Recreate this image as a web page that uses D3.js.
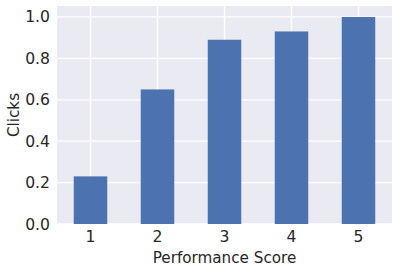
<!DOCTYPE html>
<html>
<head>
<meta charset="utf-8">
<script src="https://cdn.jsdelivr.net/npm/d3@7"></script>
<style>
  body { margin: 0; background: #fff; }
  svg text { font-family: "DejaVu Sans", sans-serif; fill: #262626; }
</style>
</head>
<body>
<div id="chart"></div>
<script>
// data
var scores = ["1", "2", "3", "4", "5"];
var clicks = [0.23, 0.65, 0.89, 0.93, 1.0];
var yTicks = [0.0, 0.2, 0.4, 0.6, 0.8, 1.0];

var width = 398, height = 272;
var margin = { top: 6, right: 6, bottom: 48, left: 57 };
var w = width - margin.left - margin.right,
    h = height - margin.top - margin.bottom;

var svg = d3.select("#chart").append("svg")
    .attr("width", width).attr("height", height);

var g = svg.append("g").attr("transform", "translate(" + margin.left + "," + margin.top + ")");

g.append("rect").attr("width", w).attr("height", h).attr("fill", "#eaeaf2");

var x = d3.scaleBand().domain(scores).range([0, w]).paddingInner(0.5).paddingOuter(0.25);
var y = d3.scaleLinear().domain([0, 1.053]).range([h, 0]);

// grid
g.selectAll(".hgrid").data(yTicks).enter().append("line")
    .attr("class", "hgrid")
    .attr("x1", 0).attr("x2", w)
    .attr("y1", function (d) { return y(d); }).attr("y2", function (d) { return y(d); })
    .attr("stroke", "#fff").attr("stroke-width", 1.3);
g.selectAll(".vgrid").data(scores).enter().append("line")
    .attr("class", "vgrid")
    .attr("y1", 0).attr("y2", h)
    .attr("x1", function (d) { return x(d) + x.bandwidth() / 2; })
    .attr("x2", function (d) { return x(d) + x.bandwidth() / 2; })
    .attr("stroke", "#fff").attr("stroke-width", 1.3);

// bars
g.selectAll(".bar").data(clicks).enter().append("rect")
    .attr("class", "bar")
    .attr("x", function (d, i) { return x(scores[i]); })
    .attr("width", x.bandwidth())
    .attr("y", function (d) { return y(d); })
    .attr("height", function (d) { return h - y(d); })
    .attr("fill", "#4c72b0");

// axes
var xAxis = g.append("g").attr("transform", "translate(0," + h + ")")
    .call(d3.axisBottom(x).tickSize(0).tickPadding(7));
var yAxis = g.append("g")
    .call(d3.axisLeft(y).tickValues(yTicks).tickFormat(d3.format(".1f")).tickSize(0).tickPadding(7));
[xAxis, yAxis].forEach(function (a) {
    a.select(".domain").remove();
    a.selectAll("text").attr("font-size", "15.6px").attr("font-family", "DejaVu Sans").attr("fill", "#262626");
});

svg.append("text")
    .attr("x", margin.left + w / 2).attr("y", height - 9)
    .attr("text-anchor", "middle").attr("font-size", "15.2px")
    .text("Performance Score");

svg.append("text")
    .attr("transform", "translate(19," + (margin.top + h / 2) + ") rotate(-90)")
    .attr("text-anchor", "middle").attr("font-size", "15.2px")
    .text("Clicks");
</script>
</body>
</html>
